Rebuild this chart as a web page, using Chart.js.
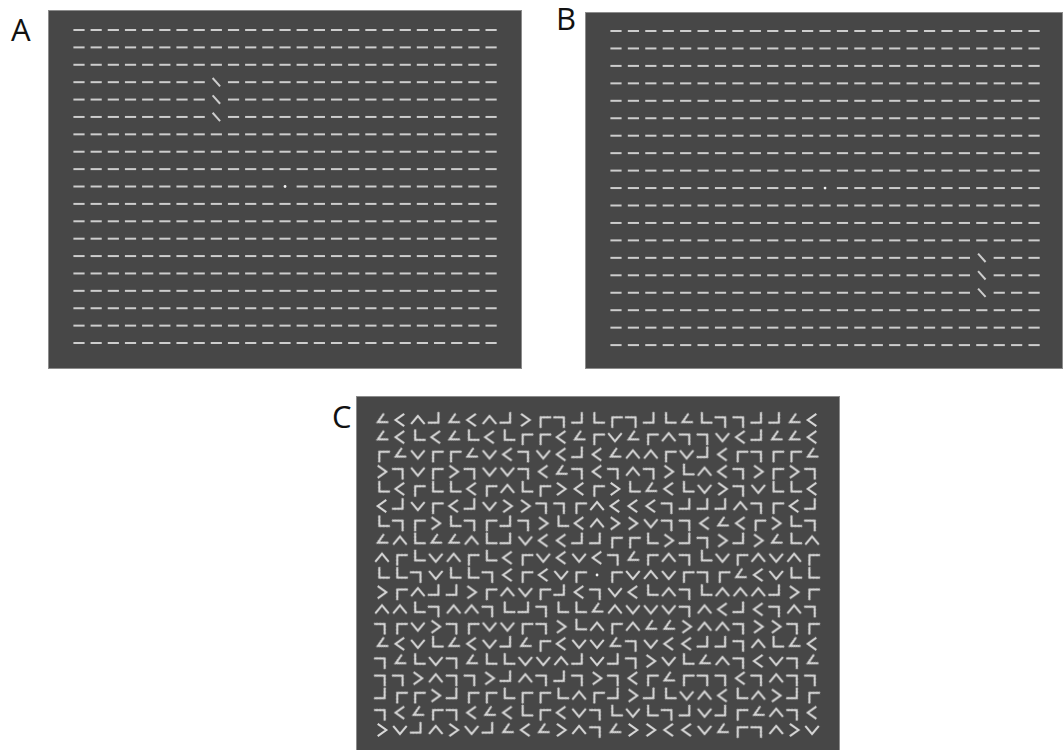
<!DOCTYPE html>
<html>
<head>
<meta charset="utf-8">
<script src="https://cdn.jsdelivr.net/npm/chart.js@4"></script>
<style>
  html, body { margin: 0; padding: 0; background: #ffffff; }
  body { width: 1064px; height: 750px; position: relative; overflow: hidden; }
  .panel { position: absolute; }
  .panel canvas { display: block; }
  .lbl { position: absolute; font-family: "Open Sans", "Liberation Sans", sans-serif; font-size: 31px; color: #111; line-height: 1; }
</style>
</head>
<body>
<div class="lbl" id="lblA" style="left:11px; top:14px;">A</div>
<div class="lbl" id="lblB" style="left:556px; top:3px;">B</div>
<div class="lbl" id="lblC" style="left:332px; top:401px;">C</div>
<div class="panel" id="pA"><canvas id="cA"></canvas></div>
<div class="panel" id="pB"><canvas id="cB"></canvas></div>
<div class="panel" id="pC"><canvas id="cC"></canvas></div>
<script>
// ---------------- DATA ----------------
const gridCols = 25;              // columns of elements in every panel
const gridRows = 19;              // rows of elements in every panel
const fixation = [12, 9];         // [col,row] of the central fixation dot

// Panel A: vertical column of three oblique bars
const targetColA = 8;
const targetRowsA = [3, 4, 5];
// Panel B
const targetColB = 21;
const targetRowsB = [13, 14, 15];
const targetTiltDeg = 48;         // tilt of oblique bars (clockwise from horizontal)

// Panel C: corner ("L"-junction) elements, one char per cell.
// < > ^ v : corner pointing left/right/up/down
// L F 7 J : right-angle corners with vertex at bottom-left / top-left / top-right / bottom-right
// Z       : acute corner with horizontal base ("∠")
// .       : fixation dot
const rowsC = [
  "Z<^JZ<^J>F7JLF7JLZL77JJZ<",
  "Z<L<ZL<LFF<ZFvZF^77v<JZZ<",
  "FZvFFZv<7v<J<Z^^FvJ<F7FFZ",
  ">7vF>7vv7<Z7<7^7>L^<7>F>7",
  "L<FLL<F^LF><F>LZ<Lv>7vLL<",
  "<JvF<Jv>>77F^<<<7JJJ^7F<J",
  "L7F>L7FJ7>L<^>>v77<Z<F>L7",
  "Z^LZZ^LJv<<JJFFL>J7>J>ZL^",
  "^FLv^FL<Fv<v<7ZF^7LvF^v^F",
  "LL7vLL7<F<vF.Fv^vF7FZ<vLL",
  ">F^JJ>F^vFJ<7v<L^7L^^^J>F",
  "^^L7^^7LJ7LLZ^vvv7^<J<7^7",
  "7Fv>7FvvF7>L^F^ZZ>^^7>>7F",
  "Z<vLZ<vJZF<vvZ7v<<JJ7^LZ<",
  "7ZLv7ZLLvv^JvJ7>vLZ^7<v7Z",
  "77>^77>J^7J7>7<FZF77<7^77",
  "JFF>JFFLFFL^FJ>JLv^<L^>JF",
  "7<ZF7<Z<LF<v7LvL7JvJFZ^7<",
  ">vJ^>vJZ<Z>^7Z>><<vZF7^>v"
];
// pointing direction (deg, counter-clockwise from right) and opening angle of each corner code
const cornerDir  = { '<': 180, '>': 0, '^': 90, 'v': 270, 'L': 225, 'F': 135, '7': 45, 'J': 315, 'Z': 207.5 };
const cornerOpen = { '<': 70,  '>': 70, '^': 80, 'v': 80, 'L': 90, 'F': 90, '7': 90, 'J': 90, 'Z': 55 };

// ---------------- LAYOUT / STYLE ----------------
const panelBg = '#474747';
const panelEdge = '#8c8c8c';
const barColor = '#cdcdcd';
const cornerColor = '#d8d8d8';
const layout = {
  A: { left: 48,  top: 10,  w: 474, h: 359, x0: 31, dx: 17.17, y0: 20, dy: 17.39 },
  B: { left: 585, top: 12,  w: 478, h: 357, x0: 31, dx: 17.42, y0: 19, dy: 17.45 },
  C: { left: 356, top: 396, w: 484, h: 356, x0: 26, dx: 17.92, y0: 24, dy: 17.22 }
};

const bgPlugin = {
  id: 'panelBg',
  beforeDraw(chart) {
    const c = chart.ctx, w = chart.width, h = chart.height;
    c.save();
    c.fillStyle = panelBg;
    c.fillRect(0, 0, w, h);
    c.strokeStyle = panelEdge;
    c.lineWidth = 1;
    c.strokeRect(0.5, 0.5, w - 1, h - 1);
    c.restore();
  }
};

function scalesFor(L) {
  const xmin = -L.x0 / L.dx, ymin = -L.y0 / L.dy;
  return {
    x: { type: 'linear', display: false, min: xmin, max: xmin + L.w / L.dx },
    y: { type: 'linear', display: false, reverse: true, min: ymin, max: ymin + L.h / L.dy }
  };
}

function makePanel(id, key, datasets) {
  const L = layout[key];
  const div = document.getElementById('p' + key);
  div.style.left = L.left + 'px'; div.style.top = L.top + 'px';
  const cv = document.getElementById(id);
  cv.width = L.w; cv.height = L.h;
  cv.style.width = L.w + 'px'; cv.style.height = L.h + 'px';
  new Chart(cv, {
    type: 'scatter',
    data: { datasets },
    options: {
      responsive: false, animation: false, devicePixelRatio: 1, events: [],
      layout: { padding: 0, autoPadding: false },
      plugins: { legend: { display: false }, tooltip: { enabled: false }, title: { display: false } },
      scales: scalesFor(L)
    },
    plugins: [bgPlugin]
  });
}

function barPanel(id, key, tCol, tRows) {
  const bg = [], tg = [];
  for (let r = 0; r < gridRows; r++) {
    for (let c = 0; c < gridCols; c++) {
      if (c === fixation[0] && r === fixation[1]) continue;
      if (c === tCol && tRows.includes(r)) tg.push({ x: c, y: r });
      else bg.push({ x: c, y: r });
    }
  }
  makePanel(id, key, [
    { data: bg, pointStyle: 'line', pointRadius: 5.6, borderWidth: 2, borderColor: barColor, backgroundColor: barColor, pointRotation: 0 },
    { data: tg, pointStyle: 'line', pointRadius: 5.6, borderWidth: 2, borderColor: barColor, backgroundColor: barColor, pointRotation: targetTiltDeg },
    { data: [{ x: fixation[0], y: fixation[1] }], pointStyle: 'circle', pointRadius: 1.4, borderWidth: 0, backgroundColor: '#f2f2f2', borderColor: '#f2f2f2' }
  ]);
}

// corner image pointing to the right, centred on its bounding box
function cornerImage(openDeg) {
  const arm = 10.5, lw = 2.1, S = 28;
  const cv = document.createElement('canvas');
  cv.width = S; cv.height = S;
  const g = cv.getContext('2d');
  const h = openDeg / 2 * Math.PI / 180;
  const ex = arm * Math.cos(h), ey = arm * Math.sin(h);
  const vx = S / 2 + ex / 2, vy = S / 2;
  g.strokeStyle = cornerColor; g.lineWidth = lw; g.lineJoin = 'miter'; g.lineCap = 'butt';
  g.beginPath();
  g.moveTo(vx - ex, vy - ey); g.lineTo(vx, vy); g.lineTo(vx - ex, vy + ey);
  g.stroke();
  return cv;
}

barPanel('cA', 'A', targetColA, targetRowsA);
barPanel('cB', 'B', targetColB, targetRowsB);

// Panel C datasets: one per corner code
const groups = {};
rowsC.forEach((row, r) => {
  [...row].forEach((ch, c) => {
    if (!groups[ch]) groups[ch] = [];
    groups[ch].push({ x: c, y: r });
  });
});
const dsC = [];
Object.keys(groups).forEach(ch => {
  if (ch === '.') {
    dsC.push({ data: groups[ch], pointStyle: 'circle', pointRadius: 1.4, borderWidth: 0, backgroundColor: '#f2f2f2', borderColor: '#f2f2f2' });
  } else {
    dsC.push({ data: groups[ch], pointStyle: cornerImage(cornerOpen[ch]), pointRotation: -cornerDir[ch], pointRadius: 8 });
  }
});
makePanel('cC', 'C', dsC);
</script>
</body>
</html>
